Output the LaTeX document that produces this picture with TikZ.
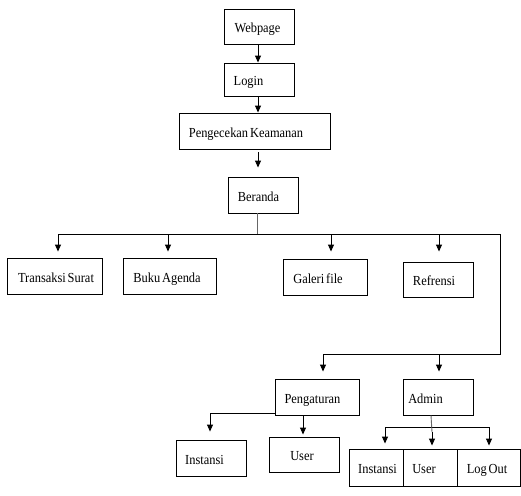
\documentclass[tikz,border=0pt]{standalone}
\usepackage{fontspec}
\setmainfont{Liberation Serif}[FakeStretch=0.9,WordSpace=0.6]
\usetikzlibrary{arrows.meta}
\newcommand{\lft}[2]{#2\hspace*{#1}}
\newcommand{\rgt}[2]{\hspace*{#1}#2}
\begin{document}
\begin{tikzpicture}[x=1pt,y=-1pt,
  box/.style={draw, line width=0.9pt, inner sep=0pt, text height=12pt, text depth=0pt,
    font=\fontsize{13.8}{15}\selectfont},
  ln/.style={line width=0.9pt},
  arr/.style={line width=0.9pt, -{Triangle[width=6pt,length=7pt]}},
  gln/.style={line width=0.9pt, black!60}]
\useasboundingbox (0,0) rectangle (521,495);
\node[box, minimum width=70pt, minimum height=35pt] (web) at (259,26.5) {\lft{3pt}{Webpage}};
\node[box, minimum width=70pt, minimum height=33pt] (login) at (259,79.5) {\lft{21pt}{Login}};
\node[box, minimum width=151pt, minimum height=36pt] (cek) at (254.5,131) {\lft{17pt}{Pengecekan Keamanan}};
\node[box, minimum width=70pt, minimum height=36pt] (ber) at (263,195) {\lft{9pt}{Beranda}};
\node[box, minimum width=95pt, minimum height=36pt] (ts) at (54.5,276) {\rgt{3pt}{Transaksi Surat}};
\node[box, minimum width=93pt, minimum height=36pt] (ba) at (169.5,276) {\lft{5pt}{Buku Agenda}};
\node[box, minimum width=84pt, minimum height=36pt] (gf) at (325,277) {\lft{14pt}{Galeri file}};
\node[box, minimum width=70pt, minimum height=35pt] (ref) at (438,279.5) {\lft{8pt}{Refrensi}};
\node[box, minimum width=84pt, minimum height=36pt] (peng) at (317,397) {\lft{9pt}{Pengaturan}};
\node[box, minimum width=70pt, minimum height=36pt] (adm) at (438,397) {\lft{25pt}{Admin}};
\node[box, minimum width=70pt, minimum height=36pt] (ins) at (211,458) {\lft{13pt}{Instansi}};
\node[box, minimum width=70pt, minimum height=35pt] (usr) at (304,454.5) {\lft{4pt}{User}};
\node[box, minimum width=54pt, minimum height=37pt] (ins2) at (376,467.5) {\rgt{3pt}{Instansi}};
\node[box, minimum width=54pt, minimum height=37pt] (usr2) at (430,467.5) {\lft{12pt}{User}};
\node[box, minimum width=63pt, minimum height=37pt] (lo) at (488.5,467.5) {\lft{3pt}{Log Out}};
% top chain
\draw[arr] (web.south -| 258,0) -- (login.north -| 258,0);
\draw[arr] (login.south -| 258,0) -- (cek.north -| 258,0);
\draw[arr, shorten <=3pt, shorten >=9pt] (cek.south -| 258,0) -- (ber.north -| 258,0);
% Beranda bus
\coordinate (bs) at (257,234);
\coordinate (b1) at (58,234);
\coordinate (b2) at (168,234);
\coordinate (b3) at (331,234);
\coordinate (b4) at (439,234);
\coordinate (br) at (500,234);
\coordinate (rb) at (500,354);
\coordinate (p1) at (323,354);
\coordinate (p2) at (439,354);
\draw[gln] (ber.south -| bs) -- (bs);
\draw[ln] (b1) -- (br) -- (rb) -- (p1);
\draw[arr, shorten >=6pt] (b1) -- (b1 |- ts.north);
\draw[arr, shorten >=6pt] (b2) -- (b2 |- ba.north);
\draw[arr, shorten >=7pt] (b3) -- (b3 |- gf.north);
\draw[arr, shorten >=10pt] (b4) -- (b4 |- ref.north);
\draw[arr, shorten >=7pt] (p1) -- (p1 |- peng.north);
\draw[arr, shorten >=7pt] (p2) -- (p2 |- adm.north);
% Pengaturan branch
\coordinate (q1) at (210,413);
\draw[ln] (peng.west |- q1) -- (q1);
\draw[arr, shorten >=8pt] (q1) -- (q1 |- ins.north);
\draw[arr, shorten >=2pt] (peng.south -| 303,0) -- (usr.north -| 303,0);
% Admin branch
\coordinate (a1) at (385,427);
\coordinate (a3) at (489,427);
\draw[ln] (a1) -- (a3);
\draw[arr, shorten >=5pt] (a1) -- (a1 |- ins2.north);
\draw[arr, shorten >=3pt] (a3) -- (a3 |- lo.north);
\draw[gln] (adm.south -| 431,0) -- (432,432);
\draw[arr, shorten >=3pt] (432,432) -- (usr2.north -| 432,0);
\end{tikzpicture}
\end{document}
